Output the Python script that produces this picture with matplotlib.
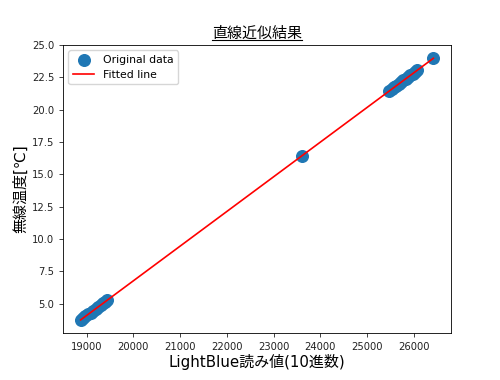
import numpy as np
import matplotlib
matplotlib.use("Agg")
import matplotlib.pyplot as plt
from matplotlib.lines import Line2D

plt.rcParams['font.family'] = ['DejaVu Sans', 'Noto Sans CJK JP']

# 読み値と温度
lightblue = [18871, 18920, 18975, 19030, 19085, 19140, 19195, 19250, 19300, 19350, 19400, 19440,
             23600,
             25480, 25530, 25580, 25630, 25680, 25730, 25780, 25830, 25880, 25930, 25980,
             26030, 26080, 26420]
temp = [3.74, 3.87, 4.02, 4.16, 4.31, 4.46, 4.61, 4.75, 4.89, 5.02, 5.16, 5.26,
        16.41,
        21.45, 21.59, 21.72, 21.85, 21.99, 22.12, 22.26, 22.39, 22.53, 22.66, 22.79,
        22.93, 23.06, 23.97]

title_text = '直線近似結果'
xlabel_text = 'LightBlue読み値(10進数)'
ylabel_text = '無線温度[℃]'

x = np.array(lightblue)
y = np.array(temp)
coef = np.polyfit(x, y, 1)
y_fit = np.polyval(coef, x)

fig = plt.figure(figsize=(5, 3.8), dpi=100)
ax = fig.add_axes([0.126, 0.1237, 0.776, 0.7579])

ax.scatter(x, y, s=70, color='#1f77b4', label='Original data')
ax.plot(x, y_fit, color='red', linewidth=1.2, label='Fitted line')

ax.set_title(title_text, family=['Noto Sans CJK JP', 'DejaVu Sans'], fontsize=10.8, pad=5)
ax.set_xlabel(xlabel_text, fontsize=10.8, labelpad=2)
ax.set_ylabel(ylabel_text, fontsize=10.8, labelpad=3)

ax.set_xticks(np.arange(19000, 26001, 1000))
ax.set_yticks(np.arange(5.0, 25.1, 2.5))
ax.tick_params(labelsize=7.2, length=2.7, width=0.6, colors='#222222')
for s in ax.spines.values():
    s.set_linewidth(0.6)
ax.legend(loc='upper left', fontsize=7.8)

# タイトルに下線を引く
fig.canvas.draw()
bb = ax.title.get_window_extent()
inv = fig.transFigure.inverted()
(x0, y0) = inv.transform((bb.x0, bb.y0 + 1))
(x1, _) = inv.transform((bb.x1, bb.y0 + 1))
fig.add_artist(Line2D([x0, x1], [y0, y0], transform=fig.transFigure, color='black', linewidth=0.8))

fig.savefig('out.png', dpi=100)
